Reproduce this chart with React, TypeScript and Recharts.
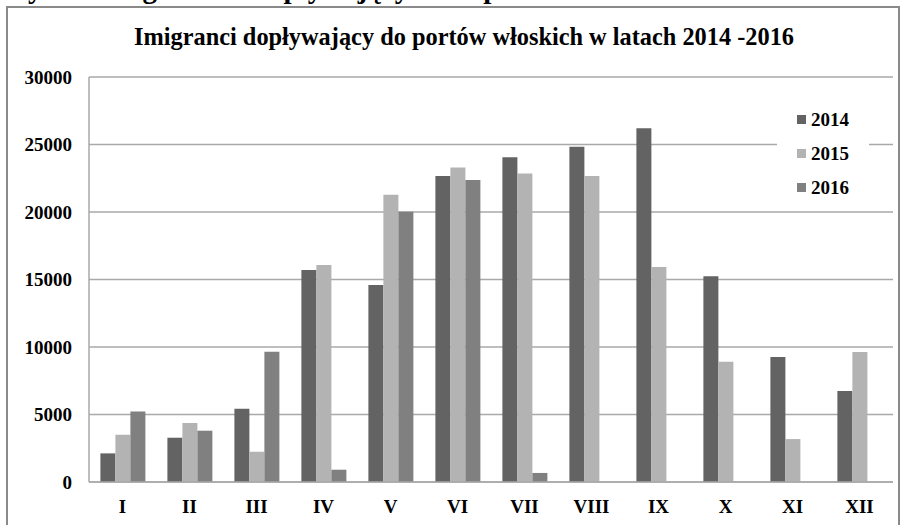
import React from 'react';
import { BarChart, Bar, XAxis, YAxis, CartesianGrid } from 'recharts';

const months = ['I', 'II', 'III', 'IV', 'V', 'VI', 'VII', 'VIII', 'IX', 'X', 'XI', 'XII'];
const y2014 = [2120, 3280, 5430, 15700, 14600, 22670, 24050, 24840, 26200, 15250, 9260, 6740];
const y2015 = [3500, 4370, 2240, 16070, 21280, 23300, 22860, 22670, 15930, 8900, 3180, 9630];
const y2016: (number | null)[] = [5230, 3800, 9650, 910, 20020, 22370, 670, null, null, null, null, null];
const yTicks = [0, 5000, 10000, 15000, 20000, 25000, 30000];
const seriesNames = ['2014', '2015', '2016'];
const seriesColors = ['#636363', '#b3b3b3', '#808080'];

const data = months.map((m, i) => ({
  month: m,
  '2014': y2014[i],
  '2015': y2015[i],
  '2016': y2016[i],
}));

const FONT = '"Liberation Serif", "Times New Roman", serif';

const LegendBox = () => (
  <div
    style={{
      position: 'absolute',
      left: 777,
      top: 102,
      width: 92,
      background: '#fff',
      padding: '0 0 0 20px',
      boxSizing: 'border-box',
      fontFamily: FONT,
    }}
  >
    {seriesNames.map((n, i) => (
      <div key={n} style={{ display: 'flex', alignItems: 'center', height: 34 }}>
        <span style={{ display: 'inline-block', width: 9, height: 9, background: seriesColors[i], marginRight: 5 }} />
        <span style={{ fontSize: 19, fontWeight: 'bold', color: '#000', lineHeight: '19px' }}>{n}</span>
      </div>
    ))}
  </div>
);

export default function App() {
  return (
    <div style={{ position: 'relative', width: 904, height: 525, overflow: 'hidden', background: '#fff' }}>
      <style>{'body{margin:0;}'}</style>
      <svg width={904} height={20} style={{ position: 'absolute', left: 0, top: 0 }}>
        <text x={0} y={-2} fontFamily={FONT} fontWeight="bold" fontSize={29} fill="#000">
          Wykres imigrantów dopływających do portów włoskich
        </text>
      </svg>
      <div
        style={{
          position: 'absolute',
          left: 6,
          top: 6,
          width: 890,
          height: 600,
          border: '2px solid #8a8a8a',
          boxSizing: 'content-box',
        }}
      />
      <div style={{ position: 'absolute', left: 0, top: 0 }}>
        <BarChart
          width={904}
          height={525}
          data={data}
          margin={{ top: 77, right: 11, left: 0, bottom: 13 }}
          barCategoryGap="17%"
          barGap={0}
        >
          <CartesianGrid vertical={false} stroke="#a9a9a9" strokeWidth={1.5} />
          <XAxis
            dataKey="month"
            height={30}
            axisLine={{ stroke: '#a9a9a9', strokeWidth: 1.5 }}
            tickLine={false}
            tickSize={0}
            tickMargin={18}
            interval={0}
            tick={{ fill: '#000', fontSize: 19, fontWeight: 'bold', fontFamily: FONT }}
          />
          <YAxis
            width={89}
            domain={[0, 30000]}
            ticks={yTicks}
            axisLine={{ stroke: '#a9a9a9', strokeWidth: 1.5 }}
            tickLine={false}
            tickSize={0}
            tickMargin={17}
            tick={{ fill: '#000', fontSize: 19, fontWeight: 'bold', fontFamily: FONT }}
          />
          {seriesNames.map((n, i) => (
            <Bar key={n} dataKey={n} fill={seriesColors[i]} isAnimationActive={false} />
          ))}
        </BarChart>
      </div>
      <LegendBox />
      <svg width={904} height={80} style={{ position: 'absolute', left: 0, top: 0, pointerEvents: 'none' }}>
        <text
          x={464}
          y={45}
          textAnchor="middle"
          fontFamily={FONT}
          fontWeight="bold"
          fontSize={25}
          fill="#000"
          textLength={660}
          lengthAdjust="spacingAndGlyphs"
        >
          Imigranci dopływający  do portów włoskich w latach 2014 -2016
        </text>
      </svg>
    </div>
  );
}
